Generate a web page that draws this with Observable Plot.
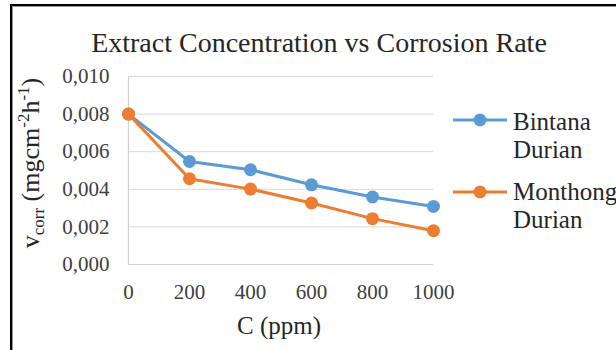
<!DOCTYPE html>
<html>
<head>
<meta charset="utf-8">
<script src="https://cdn.jsdelivr.net/npm/d3@7"></script>
<script src="https://cdn.jsdelivr.net/npm/@observablehq/plot@0.6"></script>
<style>
  html, body { margin: 0; padding: 0; background: #fff; }
  #wrap { position: relative; width: 616px; height: 350px; overflow: hidden; }
  #frame { position: absolute; left: 10px; top: 4px; right: -10px; bottom: -10px;
           border-left: 2px solid #000; border-top: 2px solid #000;
           box-shadow: inset 1px 1px 0 #999; }
  #chart { position: absolute; left: 0; top: 0; }
</style>
</head>
<body>
<div id="wrap"><div id="frame"></div><div id="chart"></div></div>
<script>
const concentrations = [0, 200, 400, 600, 800, 1000];
const bintana  = [0.0080, 0.00548, 0.00504, 0.00424, 0.00359, 0.00309];
const monthong = [0.0080, 0.00456, 0.00401, 0.00327, 0.00244, 0.00180];
const seriesNames = ["Bintana Durian", "Monthong Durian"];
const seriesColors = ["#5B9BD5", "#ED7D31"];
const xTicks = [0, 200, 400, 600, 800, 1000];
const yTicks = [0, 0.002, 0.004, 0.006, 0.008, 0.010];
const titleText = "Extract Concentration vs Corrosion Rate";
const xLabel = "C (ppm)";

const data = [
  ...concentrations.map((c, i) => ({c, v: bintana[i], s: seriesNames[0]})),
  ...concentrations.map((c, i) => ({c, v: monthong[i], s: seriesNames[1]}))
];

const fmtY = d => d3.format(".3f")(d).replace(".", ",");

const plot = Plot.plot({
  width: 616,
  height: 350,
  marginLeft: 128,
  marginRight: 183,
  marginTop: 76,
  marginBottom: 86,
  style: {fontFamily: "'Liberation Serif', serif", fontSize: "21px", color: "#404040", background: "transparent", overflow: "visible"},
  x: {domain: [0, 1000], ticks: xTicks, tickFormat: d => String(d), tickSize: 0, tickPadding: 20, label: null},
  y: {domain: [0, 0.010], ticks: yTicks, tickFormat: fmtY, tickSize: 0, tickPadding: 19, label: null},
  color: {domain: seriesNames, range: seriesColors},
  marks: [
    Plot.gridY(yTicks.slice(1), {stroke: "#d9d9d9", strokeOpacity: 1, strokeWidth: 1}),
    Plot.ruleY([0], {stroke: "#d0d0d0", strokeWidth: 1.2}),
    Plot.ruleX([0], {stroke: "#d0d0d0", strokeWidth: 1.2}),
    Plot.line(data, {x: "c", y: "v", z: "s", stroke: "s", strokeWidth: 3}),
    Plot.dot(data, {x: "c", y: "v", fill: "s", r: 6.5})
  ]
});

document.getElementById("chart").appendChild(plot);

const svg = d3.select(plot);
const color = plot.scale("color");
const font = "'Liberation Serif', serif";

// Title
svg.append("text")
  .attr("x", 319).attr("y", 52)
  .attr("text-anchor", "middle")
  .attr("font-family", font).attr("font-size", 28)
  .attr("fill", "#262626")
  .text(titleText);

// X axis label
svg.append("text")
  .attr("x", 279).attr("y", 334)
  .attr("text-anchor", "middle")
  .attr("font-family", font).attr("font-size", 25)
  .attr("fill", "#262626")
  .text(xLabel);

// Y axis label with sub/superscripts
const yl = svg.append("text")
  .attr("transform", "translate(39,163) rotate(-90)")
  .attr("text-anchor", "middle")
  .attr("font-family", font).attr("font-size", 26)
  .attr("fill", "#262626");
yl.append("tspan").text("v");
yl.append("tspan").attr("dy", 5).attr("font-size", 17).text("corr");
yl.append("tspan").attr("dy", -5).text(" (mgcm");
yl.append("tspan").attr("dy", -10).attr("font-size", 17).text("-2");
yl.append("tspan").attr("dy", 10).text("h");
yl.append("tspan").attr("dy", -10).attr("font-size", 17).text("-1");
yl.append("tspan").attr("dy", 10).text(")");

// Legend
const legendRows = [
  {name: seriesNames[0], y: 120, lines: ["Bintana", "Durian"], base: 130},
  {name: seriesNames[1], y: 192, lines: ["Monthong", "Durian"], base: 200}
];
legendRows.forEach(row => {
  const g = svg.append("g");
  g.append("line")
    .attr("x1", 453).attr("x2", 507).attr("y1", row.y).attr("y2", row.y)
    .attr("stroke", color.apply(row.name)).attr("stroke-width", 3);
  g.append("circle")
    .attr("cx", 480).attr("cy", row.y).attr("r", 6.5)
    .attr("fill", color.apply(row.name));
  row.lines.forEach((t, k) => {
    g.append("text")
      .attr("x", 513).attr("y", row.base + k * 28)
      .attr("text-anchor", "start")
      .attr("font-family", font).attr("font-size", 25)
      .attr("fill", "#262626")
      .text(t);
  });
});
</script>
</body>
</html>
